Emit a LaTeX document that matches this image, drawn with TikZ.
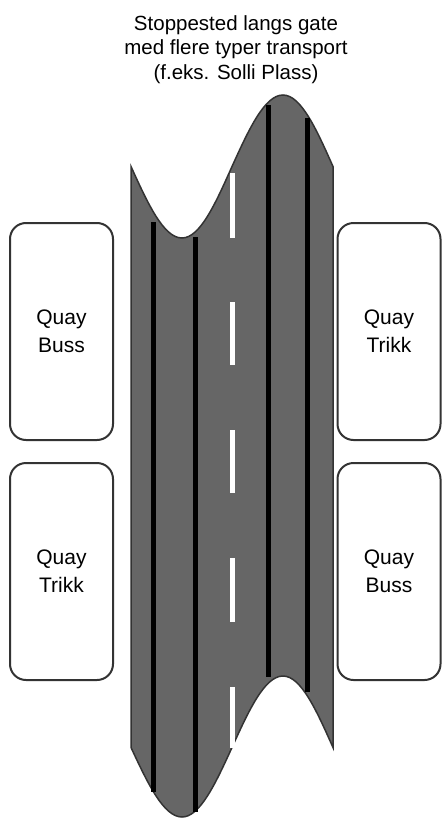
\documentclass[tikz,border=0pt]{standalone}
\usepackage{fontspec}
\setmainfont{Liberation Sans}
\begin{document}
\begin{tikzpicture}[x=1pt,y=-1pt,
  road/.style={fill=roadgray,draw=edgegray,line width=1.5pt},
  laneline/.style={draw=black,line width=5pt},
  centreline/.style={draw=white,line width=5pt},
  quay/.style={draw=edgegray,line width=2pt,rounded corners=16pt,fill=white,
    minimum width=103pt,minimum height=217pt,inner sep=0pt,align=center,
    font=\fontsize{21}{28}\selectfont},
  title/.style={align=center,inner sep=0pt,anchor=north,
    font=\fontsize{20.5}{24.5}\selectfont}]
\definecolor{roadgray}{HTML}{666666}
\definecolor{edgegray}{HTML}{333333}
\useasboundingbox (0,0) rectangle (442,819);
% road surface
\path[road] (131,166.5) sin (182,238) cos (232,166.5) sin (283,95) cos (333,166.5)
  -- (333,747.5) sin (283,676) cos (232,747.5) sin (182,817) cos (131,747.5) -- cycle;
% lane lines
\draw[laneline] (153,222) -- (153,792);
\draw[laneline] (195,237) -- (195,812);
\draw[laneline] (268,105) -- (268,677);
\draw[laneline] (307,118) -- (307,692);
% centre dashes
\foreach \a/\b in {173/238,302/365,430/493,558/622,687/748}
  \draw[centreline] (232.5,\a) -- (232.5,\b);
% title
\node[title] (t) at (236,15) {Stoppested langs gate\\med flere typer transport\\(f.eks. Solli Plass)};
% quays
\node[quay] (q1) at (61.5,331.5) {Quay\\Buss};
\node[quay] (q2) at (61.5,571.5) {Quay\\Trikk};
\node[quay] (q3) at (389,331.5) {Quay\\Trikk};
\node[quay] (q4) at (389,571.5) {Quay\\Buss};
\end{tikzpicture}
\end{document}
